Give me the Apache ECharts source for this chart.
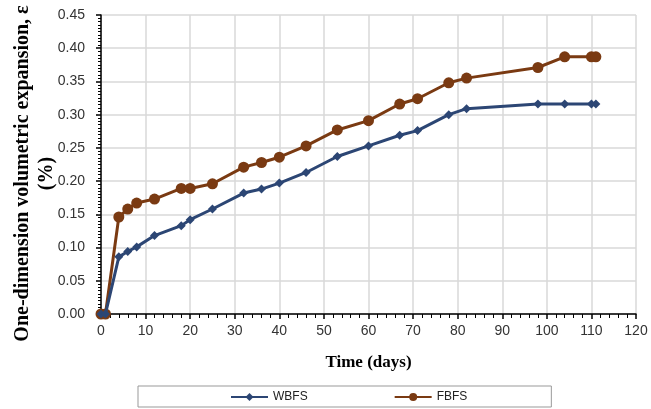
<!DOCTYPE html>
<html><head><meta charset="utf-8">
<script src="https://cdn.jsdelivr.net/npm/echarts@6/dist/echarts.min.js"></script>
<style>html,body{margin:0;padding:0;background:#fff}#c{width:651px;height:409px}</style>
</head><body><div id="c"></div>
<script>
const days = [0,1,4,6,8,12,18,20,25,32,36,40,46,53,60,67,71,78,82,98,104,110,111];
const wbfs = [0,0,0.086,0.094,0.101,0.118,0.133,0.142,0.158,0.182,0.188,0.197,0.213,0.237,0.253,0.269,0.276,0.300,0.309,0.316,0.316,0.316,0.316];
const fbfs = [0,0,0.146,0.158,0.167,0.173,0.189,0.189,0.196,0.221,0.228,0.236,0.253,0.277,0.291,0.316,0.324,0.348,0.355,0.371,0.387,0.387,0.387];
const seriesNames = ['WBFS','FBFS'];
const xTitle = 'Time (days)';
const yTitle = 'One-dimension volumetric expansion, ε\n(%)';

const chart = echarts.init(document.getElementById('c'), null, {renderer:'canvas'});
const pair = (ys) => days.map((d,i)=>[d, ys[i]]);
chart.setOption({
  animation:false,
  grid:{left:101, right:15, top:15, bottom:95, containLabel:false, outerBoundsMode:'none'},
  legend:{
    data:seriesNames, left:138, top:386,
    padding:[5,84,4,92], itemGap:86, itemWidth:37, itemHeight:10,
    borderColor:'#999', borderWidth:1, borderRadius:0,
    textStyle:{fontFamily:'Liberation Sans', fontSize:12, color:'#222'}
  },
  xAxis:{
    type:'value', min:0, max:120, interval:10,
    name:xTitle, nameLocation:'middle', nameGap:40, nameMoveOverlap:false,
    nameTextStyle:{fontFamily:'Liberation Serif', fontWeight:'bold', fontSize:17, color:'#000'},
    axisLine:{show:true, lineStyle:{color:'#000', width:1.5}},
    axisTick:{show:true, length:5, lineStyle:{color:'#000', width:1.5}},
    minorTick:{show:true, splitNumber:5, length:4, lineStyle:{color:'#000'}},
    axisLabel:{fontFamily:'Liberation Sans', fontSize:14, color:'#333', margin:10},
    splitLine:{show:true, lineStyle:{color:'#d9d9d9', width:1.5}}
  },
  yAxis:{
    type:'value', min:0, max:0.45, interval:0.05,
    name:yTitle, nameLocation:'middle', nameGap:42, nameMoveOverlap:false,
    nameTextStyle:{fontFamily:'Liberation Serif', fontWeight:'bold', fontSize:20, color:'#000', lineHeight:24, padding:[0,18,0,0]},
    axisLine:{show:true, lineStyle:{color:'#000', width:1.5}},
    axisTick:{show:true, length:5, lineStyle:{color:'#000', width:1.5}},
    minorTick:{show:true, splitNumber:10, length:3, lineStyle:{color:'#000'}},
    axisLabel:{fontFamily:'Liberation Sans', fontSize:14, color:'#333', margin:16, formatter:v=>v.toFixed(2)},
    splitLine:{show:true, lineStyle:{color:'#d9d9d9', width:1.5}}
  },
  series:[
    {name:seriesNames[0], type:'line', data:pair(wbfs), symbol:'diamond', symbolSize:9,
     lineStyle:{color:'#2c4674', width:3}, itemStyle:{color:'#2c4674'}, z:3},
    {name:seriesNames[1], type:'line', data:pair(fbfs), symbol:'circle', symbolSize:11,
     lineStyle:{color:'#7a3a12', width:3}, itemStyle:{color:'#7a3a12'}, z:2}
  ]
});
</script></body></html>
